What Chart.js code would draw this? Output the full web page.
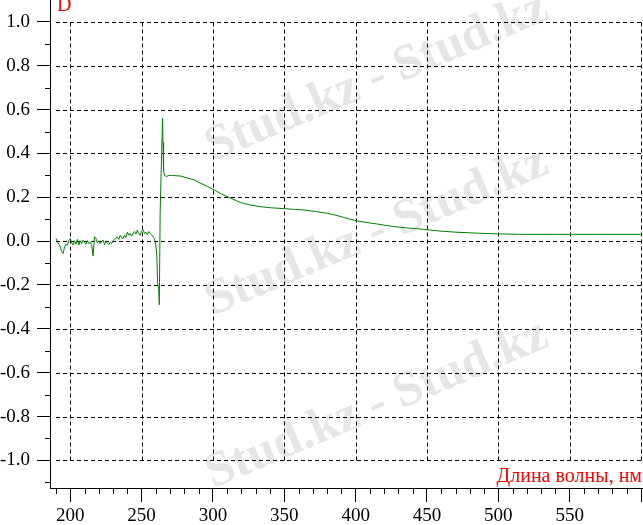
<!DOCTYPE html>
<html>
<head>
<meta charset="utf-8">
<script src="https://cdn.jsdelivr.net/npm/chart.js@4/dist/chart.umd.min.js"></script>
<style>
html,body{margin:0;padding:0;background:#fff;}
canvas{display:block;}
</style>
</head>
<body>
<canvas id="c" width="643" height="525"></canvas>
<script>
// Wavelength, nm
const wavelength = [
  190,191,192,193,194,195,196,197,198,199,
  200,201,202,203,204,205,206,207,208,209,
  210,211,212,213,214,215,216,217,218,219,
  220,221,222,223,224,225,226,227,228,229,
  230,231,232,233,234,235,236,237,238,239,
  240,241,242,243,244,245,246,247,248,249,
  250,251,252,253,254,255,256,257,258,259,
  260,260.7,261.2,262,262.4,263,263.6,264.7,265,265.4,266,267.5,269,271,275,277.5,281,286.8,291,296,
  300.8,306,312.4,319.4,326,333.4,341,350.4,357,363.8,372,380.2,388,395,401.2,408,415.3,423,431.6,440,
  447.5,459,470,487,500,515,540,570,601
];
// Optical density D
const absorbance = [
  0.012,-0.003,-0.014,-0.026,-0.048,-0.056,-0.026,-0.014,-0.018,0.002,
  0.012,-0.008,-0.018,0.002,-0.014,0.008,-0.018,0.002,-0.011,0.005,
  -0.005,-0.014,0.002,-0.011,-0.005,-0.018,-0.068,0.020,0.012,-0.008,
  0.002,-0.011,-0.002,0.005,-0.016,0.002,-0.011,-0.016,-0.005,-0.011,
  0.002,0.008,0.012,0.020,0.008,0.026,0.017,0.011,0.026,0.017,
  0.041,0.027,0.035,0.023,0.035,0.044,0.032,0.050,0.035,0.026,
  0.047,0.053,0.035,0.041,0.029,0.044,0.035,0.029,0.020,0.012,
  -0.020,-0.070,-0.190,-0.220,-0.290,0.130,0.290,0.560,0.450,0.320,0.300,0.295,0.300,0.300,0.298,0.297,0.290,0.280,0.265,0.250,
  0.234,0.215,0.196,0.176,0.165,0.157,0.152,0.148,0.145,0.142,0.135,0.127,0.115,0.102,0.092,0.085,0.078,0.070,0.063,0.058,
  0.054,0.046,0.041,0.036,0.033,0.031,0.031,0.031,0.031
];
const xMajorTicks = [200,250,300,350,400,450,500,550,600];
const xTickLabels = ['200','250','300','350','400','450','500','550',''];
const yMajorTicks = [-1.0,-0.8,-0.6,-0.4,-0.2,0.0,0.2,0.4,0.6,0.8,1.0];
const yTickLabels = ['-1.0','-0.8','-0.6','-0.4','-0.2','0.0','0.2','0.4','0.6','0.8','1.0'];
const xAxisTitle = 'Длина волны, нм';
const yAxisTitle = 'D';
const watermarkText = 'Stud.kz - Stud.kz';

const FONT = '"Liberation Serif", "Times New Roman", serif';

function isXMajor(v){ return xMajorTicks.some(t => Math.abs(t - v) < 1e-6); }
function isYMajor(v){ return yMajorTicks.some(t => Math.abs(t - v) < 1e-6); }

const decorPlugin = {
  id: 'decor',
  beforeDraw(chart){
    const ctx = chart.ctx;
    ctx.save();
    ctx.fillStyle = '#fff';
    ctx.fillRect(0,0,chart.width,chart.height);
    // watermark text
    ctx.fillStyle = '#e6e6e6';
    ctx.font = 'bold 50px ' + FONT;
    ctx.textAlign = 'center';
    ctx.textBaseline = 'middle';
    [[377,78],[377,232],[377,405]].forEach(p => {
      ctx.save();
      ctx.translate(p[0], p[1]);
      ctx.rotate(-23 * Math.PI / 180);
      ctx.fillText(watermarkText, 0, 0);
      ctx.restore();
    });
    ctx.restore();
  },
  beforeDatasetsDraw(chart){
    const ctx = chart.ctx;
    const xs = chart.scales.x, ys = chart.scales.y;
    const area = chart.chartArea;
    ctx.save();
    ctx.strokeStyle = '#000';
    ctx.lineWidth = 1;
    ctx.setLineDash([4,3]);
    const yTop = Math.round(ys.getPixelForValue(1.0)) + 0.5;
    const yBot = Math.round(ys.getPixelForValue(-1.0)) + 0.5;
    xMajorTicks.forEach(v => {
      const px = Math.round(xs.getPixelForValue(v)) + 0.5;
      ctx.beginPath(); ctx.moveTo(px, yTop); ctx.lineTo(px, yBot); ctx.stroke();
    });
    const xStart = Math.round(xs.getPixelForValue(190));
    yMajorTicks.forEach(v => {
      const py = Math.round(ys.getPixelForValue(v)) + 0.5;
      ctx.beginPath(); ctx.moveTo(xStart, py); ctx.lineTo(area.right, py); ctx.stroke();
    });
    ctx.setLineDash([]);
    // minor tick marks
    xs.ticks.forEach(t => {
      if (isXMajor(t.value)) return;
      const px = Math.round(xs.getPixelForValue(t.value)) + 0.5;
      ctx.beginPath(); ctx.moveTo(px, area.bottom); ctx.lineTo(px, area.bottom + 6); ctx.stroke();
    });
    ys.ticks.forEach(t => {
      if (isYMajor(t.value)) return;
      const py = Math.round(ys.getPixelForValue(t.value)) + 0.5;
      ctx.beginPath(); ctx.moveTo(area.left - 5, py); ctx.lineTo(area.left, py); ctx.stroke();
    });
    // axis titles
    ctx.fillStyle = '#ff0000';
    ctx.font = '20px ' + FONT;
    ctx.textBaseline = 'alphabetic';
    ctx.textAlign = 'left';
    ctx.fillText(yAxisTitle, 57, 11);
    ctx.textAlign = 'right';
    ctx.fillText(xAxisTitle, 642, 482);
    ctx.restore();
  }
};

function noPad(s){ s.paddingTop = 0; s.paddingBottom = 0; s.paddingLeft = 0; s.paddingRight = 0; }

new Chart(document.getElementById('c'), {
  type: 'line',
  data: {
    datasets: [{
      data: wavelength.map((x, i) => ({x: x, y: absorbance[i]})),
      borderColor: '#008000',
      borderWidth: 1,
      pointRadius: 0,
      tension: 0,
      fill: false
    }]
  },
  options: {
    responsive: false,
    animation: false,
    events: [],
    layout: { padding: 0 },
    plugins: { legend: { display: false }, tooltip: { enabled: false } },
    scales: {
      x: {
        type: 'linear',
        min: 185.8,
        max: 601.4,
        afterBuildTicks: s => {
          const t = [];
          for (let v = 190; v <= 600; v += 10) t.push({value: v});
          s.ticks = t;
        },
        afterFit: s => { s.height = 37; noPad(s); },
        ticks: {
          autoSkip: false,
          maxRotation: 0,
          minRotation: 0,
          padding: 3,
          color: '#000',
          font: { family: FONT, size: 19 },
          callback: v => {
            const i = xMajorTicks.findIndex(t => Math.abs(t - v) < 1e-6);
            return i >= 0 ? xTickLabels[i] : '';
          }
        },
        grid: {
          display: true,
          drawOnChartArea: false,
          drawTicks: true,
          tickLength: 14,
          tickWidth: 1,
          tickColor: c => (c.tick && isXMajor(c.tick.value)) ? '#000' : 'rgba(0,0,0,0)'
        },
        border: { display: true, color: '#000', width: 1 }
      },
      y: {
        type: 'linear',
        min: -1.126,
        max: 1.1,
        afterBuildTicks: s => {
          const t = [];
          for (let i = -11; i <= 10; i++) t.push({value: i / 10});
          s.ticks = t;
        },
        afterFit: s => { s.width = 50; noPad(s); },
        ticks: {
          autoSkip: false,
          padding: 7,
          color: '#000',
          font: { family: FONT, size: 19 },
          callback: v => {
            const i = yMajorTicks.findIndex(t => Math.abs(t - v) < 1e-6);
            return i >= 0 ? yTickLabels[i] : '';
          }
        },
        grid: {
          display: true,
          drawOnChartArea: false,
          drawTicks: true,
          tickLength: 13,
          tickWidth: 1,
          tickColor: c => (c.tick && isYMajor(c.tick.value)) ? '#000' : 'rgba(0,0,0,0)'
        },
        border: { display: true, color: '#000', width: 1 }
      }
    }
  },
  plugins: [decorPlugin]
});
</script>
</body>
</html>
